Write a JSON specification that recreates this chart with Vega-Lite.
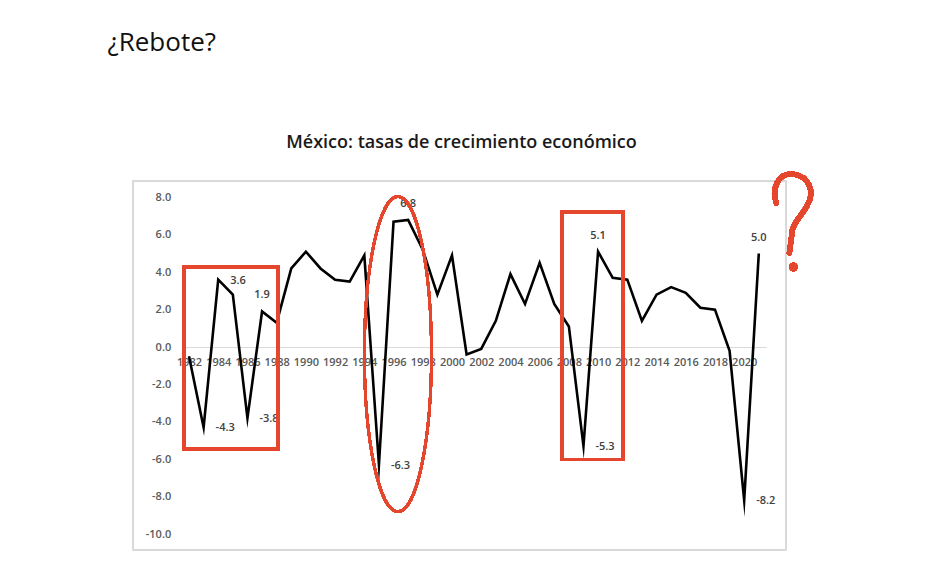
{
  "$schema": "https://vega.github.io/schema/vega-lite/v6.json",
  "autosize": "none",
  "width": 584.4,
  "height": 336.6,
  "padding": {"left": 181.7, "top": 197.4, "right": 161.9, "bottom": 41},
  "background": "white",
  "config": {
    "locale": {"number": {"decimal": ".", "thousands": ",", "grouping": [3], "currency": ["$", ""], "minus": "-"}},
    "view": {"stroke": null},
    "axis": {"labelFont": "Open Sans", "labelFontSize": 11, "labelFontWeight": 600, "labelColor": "#595959", "grid": false, "ticks": false, "labelOverlap": false}
  },
  "data": {
    "values": [
      {"year": 1982, "value": -0.5},
      {"year": 1983, "value": -4.3},
      {"year": 1984, "value": 3.6},
      {"year": 1985, "value": 2.8},
      {"year": 1986, "value": -3.8},
      {"year": 1987, "value": 1.9},
      {"year": 1988, "value": 1.3},
      {"year": 1989, "value": 4.2},
      {"year": 1990, "value": 5.1},
      {"year": 1991, "value": 4.2},
      {"year": 1992, "value": 3.6},
      {"year": 1993, "value": 3.5},
      {"year": 1994, "value": 4.9},
      {"year": 1995, "value": -6.3},
      {"year": 1996, "value": 6.7},
      {"year": 1997, "value": 6.8},
      {"year": 1998, "value": 5.2},
      {"year": 1999, "value": 2.8},
      {"year": 2000, "value": 4.9},
      {"year": 2001, "value": -0.4},
      {"year": 2002, "value": -0.1},
      {"year": 2003, "value": 1.4},
      {"year": 2004, "value": 3.9},
      {"year": 2005, "value": 2.3},
      {"year": 2006, "value": 4.5},
      {"year": 2007, "value": 2.3},
      {"year": 2008, "value": 1.1},
      {"year": 2009, "value": -5.3},
      {"year": 2010, "value": 5.1},
      {"year": 2011, "value": 3.7},
      {"year": 2012, "value": 3.6},
      {"year": 2013, "value": 1.4},
      {"year": 2014, "value": 2.8},
      {"year": 2015, "value": 3.2},
      {"year": 2016, "value": 2.9},
      {"year": 2017, "value": 2.1},
      {"year": 2018, "value": 2.0},
      {"year": 2019, "value": -0.2},
      {"year": 2020, "value": -8.2},
      {"year": 2021, "value": 5.0}
    ]
  },
  "encoding": {
    "x": {
      "field": "year",
      "type": "quantitative",
      "scale": {"domain": [1981.5, 2021.5], "nice": false, "zero": false},
      "axis": {
        "values": [1982, 1984, 1986, 1988, 1990, 1992, 1994, 1996, 1998, 2000, 2002, 2004, 2006, 2008, 2010, 2012, 2014, 2016, 2018, 2020],
        "format": "d",
        "offset": -187,
        "domainColor": "#d9d9d9",
        "domainWidth": 1,
        "labelPadding": 9,
        "labelOverlap": false,
        "labelFlush": false,
        "title": "México: tasas de crecimiento económico",
        "titleAngle": 0,
        "titleAlign": "center",
        "titleBaseline": "alphabetic",
        "titleX": 279.3,
        "titleY": -200,
        "titleFont": "Open Sans",
        "titleFontSize": 18,
        "titleFontWeight": 600,
        "titleColor": "#1a1a1a"
      }
    },
    "y": {
      "field": "value",
      "type": "quantitative",
      "scale": {"domain": [-10, 8], "nice": false},
      "axis": {
        "values": [-10, -8, -6, -4, -2, 0, 2, 4, 6, 8],
        "format": ".1f",
        "domain": false,
        "labelPadding": 11,
        "labelOverlap": false,
        "title": "¿Rebote?",
        "titleAngle": 0,
        "titleAlign": "left",
        "titleBaseline": "alphabetic",
        "titleX": -74.7,
        "titleY": -147,
        "titleFont": "Open Sans",
        "titleFontSize": 26,
        "titleFontWeight": "normal",
        "titleColor": "#111111"
      }
    }
  },
  "layer": [
    {
      "mark": {"type": "line", "color": "black", "strokeWidth": 2.6, "strokeJoin": "miter", "strokeMiterLimit": 20}
    },
    {
      "transform": [{"filter": {"field": "year", "oneOf": [1983, 1984, 1986, 1995, 2009, 2020]}}],
      "mark": {"type": "text", "align": "left", "baseline": "middle", "dx": 12, "dy": 1, "font": "Open Sans", "fontSize": 11, "fontWeight": 600, "color": "#404040"},
      "encoding": {
        "text": {"field": "value", "type": "quantitative", "format": ".1f"}
      }
    },
    {
      "transform": [{"filter": {"field": "year", "oneOf": [1987, 1997, 2010, 2021]}}],
      "mark": {"type": "text", "align": "center", "baseline": "middle", "dy": -16, "font": "Open Sans", "fontSize": 11, "fontWeight": 600, "color": "#404040"},
      "encoding": {
        "text": {"field": "value", "type": "quantitative", "format": ".1f"}
      }
    },
    {
      "mark": {"type": "rect", "fillOpacity": 0, "stroke": "#d9d9d9", "strokeWidth": 1},
      "encoding": {
        "x": {"datum": 1978.17, "type": "quantitative", "axis": {"values": [1982, 1984, 1986, 1988, 1990, 1992, 1994, 1996, 1998, 2000, 2002, 2004, 2006, 2008, 2010, 2012, 2014, 2016, 2018, 2020], "format": "d", "offset": -187, "domainColor": "#d9d9d9", "domainWidth": 1, "labelPadding": 9, "labelOverlap": false, "labelFlush": false, "title": "México: tasas de crecimiento económico", "titleAngle": 0, "titleAlign": "center", "titleBaseline": "alphabetic", "titleX": 279.3, "titleY": -200, "titleFont": "Open Sans", "titleFontSize": 18, "titleFontWeight": 600, "titleColor": "#1a1a1a"}},
        "x2": {"datum": 2022.86},
        "y": {"datum": 8.88, "type": "quantitative", "axis": {"values": [-10, -8, -6, -4, -2, 0, 2, 4, 6, 8], "format": ".1f", "domain": false, "labelPadding": 11, "labelOverlap": false, "title": "¿Rebote?", "titleAngle": 0, "titleAlign": "left", "titleBaseline": "alphabetic", "titleX": -74.7, "titleY": -147, "titleFont": "Open Sans", "titleFontSize": 26, "titleFontWeight": "normal", "titleColor": "#111111"}},
        "y2": {"datum": -10.86}
      }
    },
    {
      "mark": {"type": "rect", "fillOpacity": 0, "stroke": "#e4472d", "strokeWidth": 3},
      "encoding": {
        "x": {"datum": 1981.67, "type": "quantitative", "axis": {"values": [1982, 1984, 1986, 1988, 1990, 1992, 1994, 1996, 1998, 2000, 2002, 2004, 2006, 2008, 2010, 2012, 2014, 2016, 2018, 2020], "format": "d", "offset": -187, "domainColor": "#d9d9d9", "domainWidth": 1, "labelPadding": 9, "labelOverlap": false, "labelFlush": false, "title": "México: tasas de crecimiento económico", "titleAngle": 0, "titleAlign": "center", "titleBaseline": "alphabetic", "titleX": 279.3, "titleY": -200, "titleFont": "Open Sans", "titleFontSize": 18, "titleFontWeight": 600, "titleColor": "#1a1a1a"}},
        "x2": {"datum": 1988.07},
        "y": {"datum": 4.26, "type": "quantitative", "axis": {"values": [-10, -8, -6, -4, -2, 0, 2, 4, 6, 8], "format": ".1f", "domain": false, "labelPadding": 11, "labelOverlap": false, "title": "¿Rebote?", "titleAngle": 0, "titleAlign": "left", "titleBaseline": "alphabetic", "titleX": -74.7, "titleY": -147, "titleFont": "Open Sans", "titleFontSize": 26, "titleFontWeight": "normal", "titleColor": "#111111"}},
        "y2": {"datum": -5.45}
      }
    },
    {
      "mark": {"type": "rect", "fillOpacity": 0, "stroke": "#e4472d", "strokeWidth": 3},
      "encoding": {
        "x": {"datum": 2007.51, "type": "quantitative", "axis": {"values": [1982, 1984, 1986, 1988, 1990, 1992, 1994, 1996, 1998, 2000, 2002, 2004, 2006, 2008, 2010, 2012, 2014, 2016, 2018, 2020], "format": "d", "offset": -187, "domainColor": "#d9d9d9", "domainWidth": 1, "labelPadding": 9, "labelOverlap": false, "labelFlush": false, "title": "México: tasas de crecimiento económico", "titleAngle": 0, "titleAlign": "center", "titleBaseline": "alphabetic", "titleX": 279.3, "titleY": -200, "titleFont": "Open Sans", "titleFontSize": 18, "titleFontWeight": 600, "titleColor": "#1a1a1a"}},
        "x2": {"datum": 2011.69},
        "y": {"datum": 7.2, "type": "quantitative", "axis": {"values": [-10, -8, -6, -4, -2, 0, 2, 4, 6, 8], "format": ".1f", "domain": false, "labelPadding": 11, "labelOverlap": false, "title": "¿Rebote?", "titleAngle": 0, "titleAlign": "left", "titleBaseline": "alphabetic", "titleX": -74.7, "titleY": -147, "titleFont": "Open Sans", "titleFontSize": 26, "titleFontWeight": "normal", "titleColor": "#111111"}},
        "y2": {"datum": -6.01}
      }
    },
    {
      "mark": {"type": "point", "filled": false, "stroke": "#e4472d", "strokeWidth": 2.5, "opacity": 1, "size": 99225,
        "shape": "M 0 -1 C 0.118 -1 0.213 -0.552 0.213 0 C 0.213 0.552 0.118 1 0 1 C -0.118 1 -0.213 0.552 -0.213 0 C -0.213 -0.552 -0.118 -1 0 -1 Z"},
      "encoding": {
        "x": {"datum": 1996.3, "type": "quantitative", "axis": {"values": [1982, 1984, 1986, 1988, 1990, 1992, 1994, 1996, 1998, 2000, 2002, 2004, 2006, 2008, 2010, 2012, 2014, 2016, 2018, 2020], "format": "d", "offset": -187, "domainColor": "#d9d9d9", "domainWidth": 1, "labelPadding": 9, "labelOverlap": false, "labelFlush": false, "title": "México: tasas de crecimiento económico", "titleAngle": 0, "titleAlign": "center", "titleBaseline": "alphabetic", "titleX": 279.3, "titleY": -200, "titleFont": "Open Sans", "titleFontSize": 18, "titleFontWeight": 600, "titleColor": "#1a1a1a"}},
        "y": {"datum": -0.38, "type": "quantitative", "axis": {"values": [-10, -8, -6, -4, -2, 0, 2, 4, 6, 8], "format": ".1f", "domain": false, "labelPadding": 11, "labelOverlap": false, "title": "¿Rebote?", "titleAngle": 0, "titleAlign": "left", "titleBaseline": "alphabetic", "titleX": -74.7, "titleY": -147, "titleFont": "Open Sans", "titleFontSize": 26, "titleFontWeight": "normal", "titleColor": "#111111"}}
      }
    },
    {
      "mark": {"type": "point", "filled": false, "stroke": "#e4472d", "strokeWidth": 5, "strokeCap": "round", "opacity": 1, "size": 10000,
        "shape": "M -0.32 -0.34 C -0.42 -0.6 -0.3 -0.95 0 -0.92 C 0.35 -0.88 0.45 -0.55 0.3 -0.3 C 0.2 -0.1 0.05 0 0 0.2 L -0.06 0.66"},
      "encoding": {
        "x": {"datum": 2023.3, "type": "quantitative", "axis": {"values": [1982, 1984, 1986, 1988, 1990, 1992, 1994, 1996, 1998, 2000, 2002, 2004, 2006, 2008, 2010, 2012, 2014, 2016, 2018, 2020], "format": "d", "offset": -187, "domainColor": "#d9d9d9", "domainWidth": 1, "labelPadding": 9, "labelOverlap": false, "labelFlush": false, "title": "México: tasas de crecimiento económico", "titleAngle": 0, "titleAlign": "center", "titleBaseline": "alphabetic", "titleX": 279.3, "titleY": -200, "titleFont": "Open Sans", "titleFontSize": 18, "titleFontWeight": 600, "titleColor": "#1a1a1a"}},
        "y": {"datum": 6.79, "type": "quantitative", "axis": {"values": [-10, -8, -6, -4, -2, 0, 2, 4, 6, 8], "format": ".1f", "domain": false, "labelPadding": 11, "labelOverlap": false, "title": "¿Rebote?", "titleAngle": 0, "titleAlign": "left", "titleBaseline": "alphabetic", "titleX": -74.7, "titleY": -147, "titleFont": "Open Sans", "titleFontSize": 26, "titleFontWeight": "normal", "titleColor": "#111111"}}
      }
    },
    {
      "mark": {"type": "point", "filled": true, "color": "#e4472d", "opacity": 1, "size": 70, "shape": "circle"},
      "encoding": {
        "x": {"datum": 2023.37, "type": "quantitative", "axis": {"values": [1982, 1984, 1986, 1988, 1990, 1992, 1994, 1996, 1998, 2000, 2002, 2004, 2006, 2008, 2010, 2012, 2014, 2016, 2018, 2020], "format": "d", "offset": -187, "domainColor": "#d9d9d9", "domainWidth": 1, "labelPadding": 9, "labelOverlap": false, "labelFlush": false, "title": "México: tasas de crecimiento económico", "titleAngle": 0, "titleAlign": "center", "titleBaseline": "alphabetic", "titleX": 279.3, "titleY": -200, "titleFont": "Open Sans", "titleFontSize": 18, "titleFontWeight": 600, "titleColor": "#1a1a1a"}},
        "y": {"datum": 4.28, "type": "quantitative", "axis": {"values": [-10, -8, -6, -4, -2, 0, 2, 4, 6, 8], "format": ".1f", "domain": false, "labelPadding": 11, "labelOverlap": false, "title": "¿Rebote?", "titleAngle": 0, "titleAlign": "left", "titleBaseline": "alphabetic", "titleX": -74.7, "titleY": -147, "titleFont": "Open Sans", "titleFontSize": 26, "titleFontWeight": "normal", "titleColor": "#111111"}}
      }
    }
  ]
}
